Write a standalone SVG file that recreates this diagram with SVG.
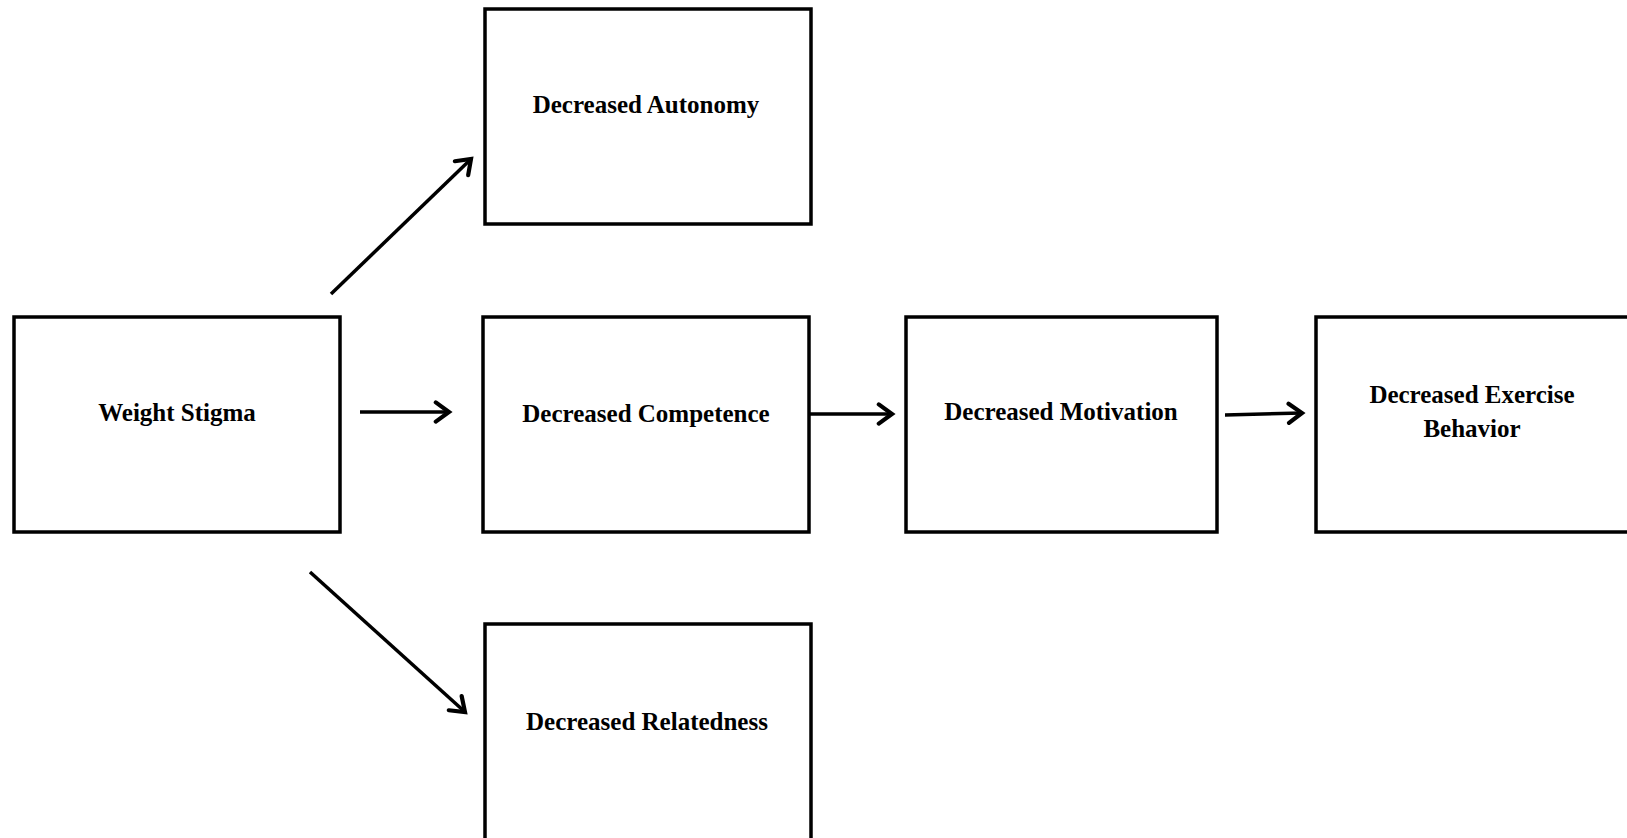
<svg xmlns="http://www.w3.org/2000/svg" width="1627" height="838" viewBox="0 0 1627 838">
<style>
.box{fill:#fff;stroke:#000;stroke-width:3.5}
.lbl{font-family:"Liberation Serif","Times New Roman",serif;font-weight:bold;font-size:25px;fill:#000;text-anchor:middle}
.conn{stroke:#000;stroke-width:3.5;fill:none;marker-end:url(#arr)}
</style>
<defs>
<marker id="arr" markerUnits="userSpaceOnUse" markerWidth="24" markerHeight="24" refX="14" refY="10" orient="auto" viewBox="0 0 20 20">
<path d="M3,2 L14,10 L3,18" fill="none" stroke="#000" stroke-width="3.5" stroke-linecap="round" stroke-linejoin="miter"/>
</marker>
</defs>
<rect width="1627" height="838" fill="#fff"/>
<g id="connectors">
<line class="conn" x1="331" y1="294" x2="471" y2="159"/>
<line class="conn" x1="360" y1="412" x2="449" y2="412"/>
<line class="conn" x1="310" y1="572" x2="465" y2="712"/>
<line class="conn" x1="809" y1="414" x2="892" y2="414"/>
<line class="conn" x1="1225" y1="415" x2="1302" y2="413"/>
</g>
<g id="weight-stigma">
<rect class="box" x="14" y="317" width="326" height="215"/>
<text class="lbl" x="177" y="421">Weight Stigma</text>
</g>
<g id="autonomy">
<rect class="box" x="485" y="9" width="326" height="215"/>
<text class="lbl" x="646" y="113">Decreased Autonomy</text>
</g>
<g id="competence">
<rect class="box" x="483" y="317" width="326" height="215"/>
<text class="lbl" x="646" y="422">Decreased Competence</text>
</g>
<g id="relatedness">
<rect class="box" x="485" y="624" width="326" height="230"/>
<text class="lbl" x="647" y="730">Decreased Relatedness</text>
</g>
<g id="motivation">
<rect class="box" x="906" y="317" width="311" height="215"/>
<text class="lbl" x="1061" y="420">Decreased Motivation</text>
</g>
<g id="exercise">
<rect class="box" x="1316" y="317" width="340" height="215"/>
<text class="lbl" x="1472" y="403">Decreased Exercise</text>
<text class="lbl" x="1472" y="437">Behavior</text>
</g>
</svg>
